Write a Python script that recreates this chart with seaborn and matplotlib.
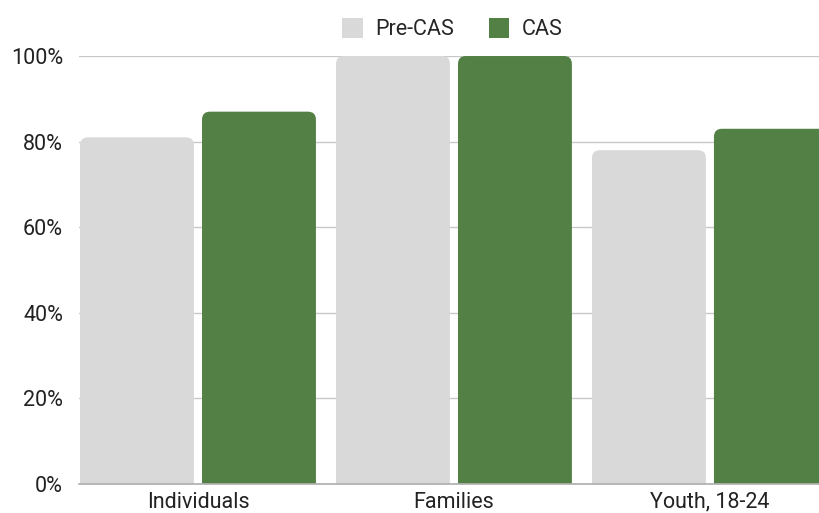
"""
Grouped bar chart: share before and after CAS by household type.
"""
import pandas as pd
import matplotlib
matplotlib.use("Agg")
import matplotlib.pyplot as plt
from matplotlib.patches import FancyBboxPatch, Patch
from matplotlib.ticker import PercentFormatter
import seaborn as sns

# data
groups = ["Individuals", "Families", "Youth, 18-24"]
series = ["Pre-CAS", "CAS"]
pre_cas = [81, 100, 78]
cas = [87, 100, 83]
colors = {"Pre-CAS": "#d9d9d9", "CAS": "#538145"}
ticks = [0, 20, 40, 60, 80, 100]

df = pd.DataFrame({
    "group": groups * 2,
    "series": ["Pre-CAS"] * 3 + ["CAS"] * 3,
    "value": pre_cas + cas,
})

sns.set_theme(style="white")
plt.rcParams["font.family"] = ["Roboto", "DejaVu Sans"]

fig = plt.figure(figsize=(8.2, 5.13), dpi=100)
ax = fig.add_axes([0.0963, 0.0565, 0.9037, 0.8343])

sns.barplot(data=df, x="group", y="value", hue="series", order=groups,
            hue_order=series, palette=colors, width=0.953, gap=0.066,
            ax=ax, legend=False, saturation=1)

# swap the plain bars for ones with rounded tops
bars = list(ax.patches)
for b in bars:
    x, w, h = b.get_x(), b.get_width(), b.get_height()
    fc = b.get_facecolor()
    b.remove()
    r = 0.031
    ax.add_patch(FancyBboxPatch((x, -5), w, h + 5,
                                boxstyle=f"round,pad=0,rounding_size={r}",
                                mutation_aspect=60, facecolor=fc,
                                edgecolor="none", zorder=2))

ax.set_xlim(-0.465, 2.43)
ax.set_ylim(0, 100)
ax.set_yticks(ticks)
ax.yaxis.set_major_formatter(PercentFormatter(decimals=0))
ax.grid(axis="y", color="#c8c8c8", linewidth=1, zorder=0)
ax.set_axisbelow(True)
for s in ["left", "right", "top"]:
    ax.spines[s].set_visible(False)
ax.spines["bottom"].set_color("#b0b0b0")
ax.spines["bottom"].set_zorder(3)
ax.set_xlabel("")
ax.set_ylabel("")
ax.tick_params(axis="both", length=0, labelsize=15.5, colors="#222222")
ax.tick_params(axis="y", pad=11.5)
ax.tick_params(axis="x", pad=5.5)

handles = [Patch(facecolor=colors[s], edgecolor="none", label=s) for s in series]
fig.legend(handles=handles, loc="center", bbox_to_anchor=(0.552, 0.943),
           ncol=2, frameon=False, fontsize=15.5, handlelength=0.95,
           handleheight=1.0, handletextpad=0.6, columnspacing=1.6)

fig.savefig("out.png", dpi=100)
